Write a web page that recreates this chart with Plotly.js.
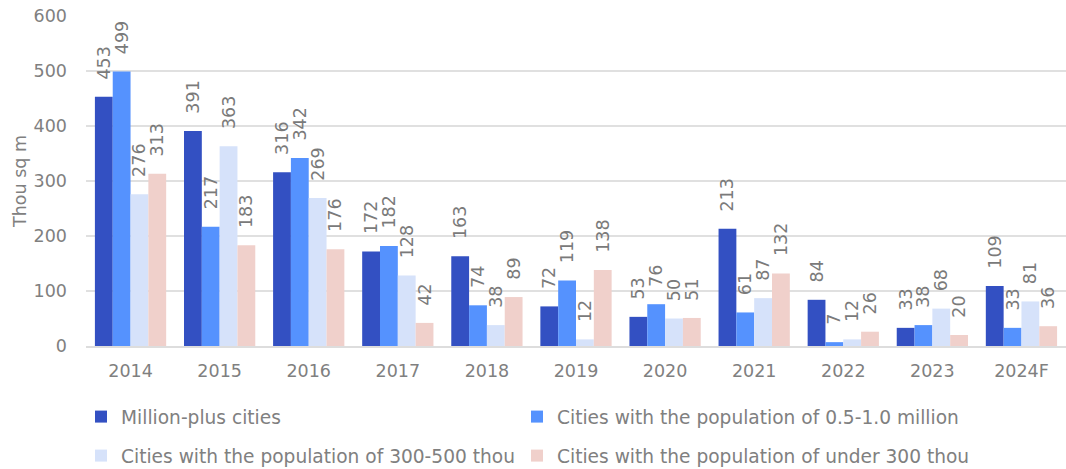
<!DOCTYPE html>
<html>
<head>
<meta charset="utf-8">
<script src="https://cdn.plot.ly/plotly-3.0.1.min.js"></script>
<style>html,body{margin:0;padding:0;background:#fff;}#chart{width:1066px;height:469px;}</style>
</head>
<body>
<div id="chart"></div>
<script>
const years = ["2014","2015","2016","2017","2018","2019","2020","2021","2022","2023","2024F"];
const millionPlus = [453,391,316,172,163,72,53,213,84,33,109];
const halfToOneMillion = [499,217,342,182,74,119,76,61,7,38,33];
const from300to500 = [276,363,269,128,38,12,50,87,12,68,81];
const under300 = [313,183,176,42,89,138,51,132,26,20,36];
const seriesNames = ["Million-plus cities","Cities with the population of 0.5-1.0 million","Cities with the population of 300-500 thou","Cities with the population of under 300 thou"];
const colors = ["#3350C2","#5592FE","#D6E2FA","#F0D0CB"];
const allSeries = [millionPlus, halfToOneMillion, from300to500, under300];
const legendIds = ["legend","legend2","legend3","legend4"];
const FONT = "DejaVu Sans, Verdana, sans-serif";
const GRAY = "#808080";

const traces = allSeries.map((vals, i) => ({
  type: "bar",
  name: seriesNames[i],
  legend: legendIds[i],
  x: years,
  y: vals,
  marker: {color: colors[i]},
  texttemplate: "\u2002\u00a0%{y}",
  textposition: "outside",
  textangle: -90,
  constraintext: "none",
  cliponaxis: false,
  textfont: {family: FONT, size: 17.5, color: "#7A7A7A"},
  hoverinfo: "x+y+name"
}));

const legendCommon = {orientation: "h", xanchor: "left", yanchor: "middle", xref: "container", yref: "container",
  font: {family: FONT, size: 18.6, color: GRAY}, itemwidth: 30, bgcolor: "rgba(0,0,0,0)"};
const col1 = 0.076, col2 = 0.076 + 436 / 1066, row1 = 1 - 417 / 469, row2 = 1 - 456 / 469;

const layout = {
  width: 1066, height: 469,
  margin: {l: 86, r: 0, t: 16, b: 123, autoexpand: false},
  paper_bgcolor: "#fff", plot_bgcolor: "#fff",
  barmode: "group", bargap: 0.2, bargroupgap: 0,
  font: {family: FONT, size: 17.5, color: GRAY},
  xaxis: {type: "category", showline: true, linecolor: "#DDDDDD", linewidth: 1.5, ticks: "", ticklabelstandoff: 8,
          tickfont: {family: FONT, size: 17.5, color: GRAY}},
  yaxis: {range: [0, 600], dtick: 100, gridcolor: "#E0E0E0", gridwidth: 1.5, zeroline: false, ticks: "", ticklabelstandoff: 18,
          tickfont: {family: FONT, size: 17.5, color: GRAY},
          title: {text: "Thou sq m", font: {family: FONT, size: 17.5, color: GRAY}, standoff: 2}},
  legend: Object.assign({}, legendCommon, {x: col1, y: row1}),
  legend2: Object.assign({}, legendCommon, {x: col2, y: row1}),
  legend3: Object.assign({}, legendCommon, {x: col1, y: row2}),
  legend4: Object.assign({}, legendCommon, {x: col2, y: row2}),
  showlegend: true
};

Plotly.newPlot("chart", traces, layout, {displayModeBar: false, staticPlot: true});
</script>
</body>
</html>
